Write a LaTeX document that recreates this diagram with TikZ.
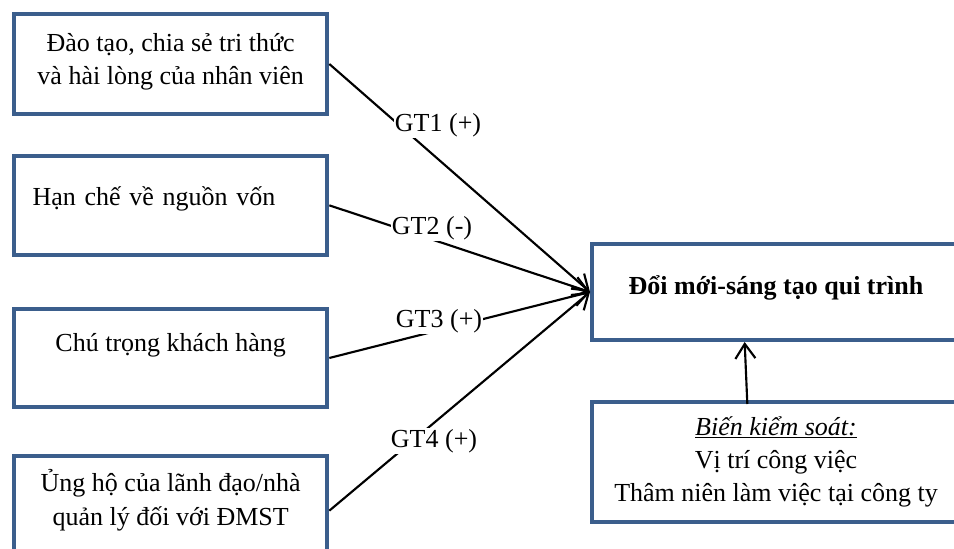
\documentclass[tikz,border=0pt]{standalone}
\usepackage{fontspec}
\setmainfont{Liberation Serif}
\usetikzlibrary{arrows.meta}
\definecolor{boxblue}{HTML}{3B5E8C}

\begin{document}
\begin{tikzpicture}[x=0.75pt,y=-0.75pt,
	box/.style={draw=boxblue, line width=3pt, anchor=north west, inner sep=0pt,
		font=\fontsize{19.5}{25}\selectfont, align=center},
	link/.style={line width=1.6pt, -{Straight Barb[length=11pt,width=15pt]}},
	gt/.style={fill=white, inner sep=1pt, font=\fontsize{19.5}{25}\selectfont}]
	\useasboundingbox (0,0) rectangle (954,549);
	%\fill[lightgray] (0,0) rectangle (954,549);
	\node[box, minimum width=235pt, minimum height=75pt, text depth=8pt] (f1) at (12,12)
		{Đào tạo, chia sẻ tri thức\\và hài lòng của nhân viên};
	\node[box, minimum width=235pt, minimum height=74pt, text width=207pt, align=left, text depth=14pt] (f2) at (12,154)
		{Hạn chế về nguồn vốn};
	\node[box, minimum width=235pt, minimum height=73.5pt, text depth=24pt] (f3) at (12,307)
		{Chú trọng khách hàng};
	\node[box, minimum width=235pt, minimum height=82pt, text depth=20pt] (f4) at (12,454)
		{Ủng hộ của lãnh đạo/nhà\\quản lý đối với ĐMST};
	\node[box, minimum width=276pt, minimum height=72pt, text depth=11pt, font=\fontsize{19.5}{25}\selectfont\bfseries] (outcome) at (590,242)
		{Đổi mới-sáng tạo qui trình};
	\node[box, minimum width=276pt, minimum height=90pt, yshift=-3pt] (control) at (590,396)
		{\underline{\textit{Biến kiểm soát:}}\\Vị trí công việc\\Thâm niên làm việc tại công ty};

	\draw[link] (f1.east) -- (outcome.west);
	\draw[link] (f2.east) -- (outcome.west);
	\draw[link] (f3.east) -- (outcome.west);
	\draw[link] (f4.east) -- (outcome.west);
	\draw[link] ([xshift=118pt,yshift=-3pt]control.north west) -- ([xshift=116pt]outcome.south west);

	\node[gt] (gt1) at (438,125) {GT1 (+)};
	\node[gt] (gt2) at (432,228) {GT2 (-)};
	\node[gt] (gt3) at (439,321) {GT3 (+)};
	\node[gt] (gt4) at (434,441) {GT4 (+)};
\end{tikzpicture}
\end{document}
